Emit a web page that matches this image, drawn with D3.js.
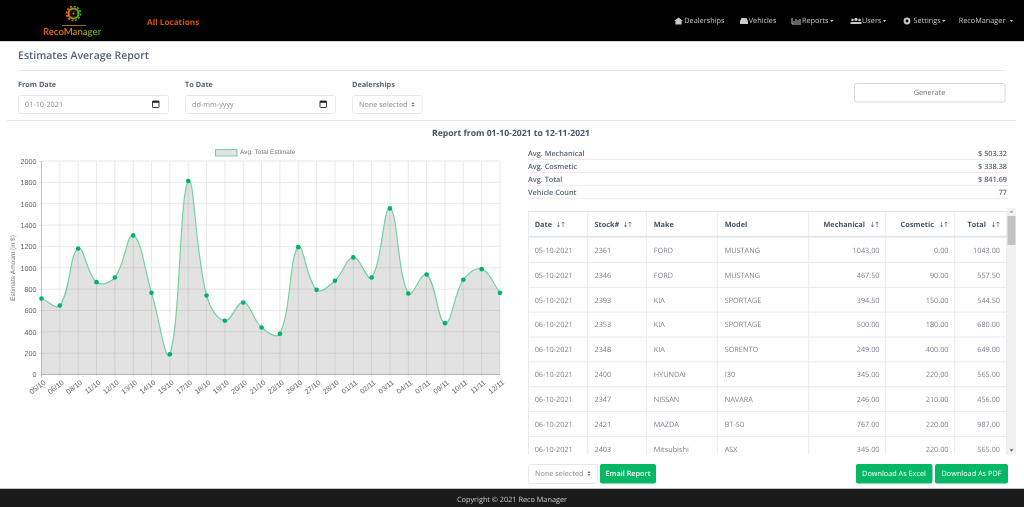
<!DOCTYPE html>
<html><head><meta charset="utf-8">
<script src="https://cdn.jsdelivr.net/npm/d3@7"></script>
<style>
html,body{margin:0;padding:0;background:#fff;overflow:hidden}
svg{display:block;filter:blur(0.3px)}
text{font-family:"Open Sans",sans-serif;text-rendering:geometricPrecision}
</style></head><body><svg id="c" width="1024" height="507"></svg>
<script>
// ---------- data ----------
const dates=["05/10","06/10","08/10","11/10","12/10","13/10","14/10","15/10","17/10","18/10","19/10","20/10","21/10","22/10","26/10","27/10","28/10","01/11","02/11","03/11","04/11","07/11","09/11","10/11","11/11","12/11"];
const avgTotal=[712,647,1181,865,909,1303,765,190,1812,740,503,675,440,381,1193,793,878,1097,909,1556,759,937,481,887,987,765];
const yTicks=[0,200,400,600,800,1000,1200,1400,1600,1800,2000];
const summaryLabels=["Avg. Mechanical","Avg. Cosmetic","Avg. Total","Vehicle Count"];
const summaryValues=["$ 503.32","$ 338.38","$ 841.69","77"];
const headers=["Date","Stock#","Make","Model","Mechanical","Cosmetic","Total"];
const rowDates=["05-10-2021","05-10-2021","05-10-2021","06-10-2021","06-10-2021","06-10-2021","06-10-2021","06-10-2021","06-10-2021"];
const rowStock=["2361","2346","2393","2353","2348","2400","2347","2421","2403"];
const rowMake=["FORD","FORD","KIA","KIA","KIA","HYUNDAI","NISSAN","MAZDA","Mitsubishi"];
const rowModel=["MUSTANG","MUSTANG","SPORTAGE","SPORTAGE","SORENTO","I30","NAVARA","BT-50","ASX"];
const rowMech=["1043.00","467.50","394.50","500.00","249.00","345.00","246.00","767.00","345.00"];
const rowCosm=["0.00","90.00","150.00","180.00","400.00","220.00","210.00","220.00","220.00"];
const rowTotal=["1043.00","557.50","544.50","680.00","649.00","565.00","456.00","987.00","565.00"];
const navItems=[["Dealerships",684.3,"home",674],["Vehicles",748.7,"car",740],["Reports",802,"chart",792],["Users",862,"users",850.5],["Settings",913.6,"cog",903],["RecoManager",958.7,null,0]];

// ---------- helpers ----------
const svg=d3.select("#c");
const SANS='"Liberation Sans",Arial,sans-serif';
const DY=0.8;
function T(x,y,s,o={}){return svg.append("text").attr("x",x).attr("y",y+DY).text(s)
  .attr("font-size",o.size||8).attr("font-weight",o.w||400).attr("fill",o.c||"#858796")
  .attr("text-anchor",o.a||"start").attr("dominant-baseline","central")
  .style("font-family",o.f||null);}
function R(x,y,w,h,o={}){return svg.append("rect").attr("x",x).attr("y",y).attr("width",w).attr("height",h)
  .attr("fill",o.fill||"none").attr("stroke",o.stroke||"none").attr("stroke-width",o.sw||1).attr("rx",o.r||0);}
function L(x1,y1,x2,y2,c,w=1){svg.append("line").attr("x1",x1).attr("y1",y1).attr("x2",x2).attr("y2",y2).attr("stroke",c).attr("stroke-width",w);}
function P(d,fill,stroke,sw){return svg.append("path").attr("d",d).attr("fill",fill||"none").attr("stroke",stroke||"none").attr("stroke-width",sw||1);}
function updown(x,y,c){P(`M${x-1.6} ${y-.6}L${x} ${y-2.6}L${x+1.6} ${y-.6}ZM${x-1.6} ${y+.6}L${x} ${y+2.6}L${x+1.6} ${y+.6}Z`,c);}
function calendar(x,y){R(x,y,6.5,6.5,{stroke:"#222",sw:.9,r:.6});R(x,y,6.5,1.8,{fill:"#222"});}

// ---------- nav ----------
R(0,0,1024,41,{fill:"#000"});
L(0,41.5,1024,41.5,"#d8d8d8");
const defs=svg.append("defs");
const grad=defs.append("linearGradient").attr("id","lg").attr("gradientUnits","userSpaceOnUse").attr("x1",43).attr("x2",103).attr("y1",0).attr("y2",0);
grad.append("stop").attr("offset","0").attr("stop-color","#e8590c");
grad.append("stop").attr("offset",".5").attr("stop-color","#d98a0a");
grad.append("stop").attr("offset","1").attr("stop-color","#2fae1f");
const gear=defs.append("linearGradient").attr("id","gg").attr("x1",0).attr("x2",1).attr("y1",0).attr("y2",0);
gear.append("stop").attr("offset","0").attr("stop-color","#f0700a");
gear.append("stop").attr("offset","1").attr("stop-color","#45b020");
svg.append("circle").attr("cx",73.5).attr("cy",13.5).attr("r",5).attr("fill","#111").attr("stroke","url(#gg)").attr("stroke-width",2);
svg.append("circle").attr("cx",73.5).attr("cy",13.5).attr("r",7).attr("fill","none").attr("stroke","url(#gg)").attr("stroke-width",1.6).attr("stroke-dasharray","2 1.66");
svg.append("circle").attr("cx",73.5).attr("cy",13.5).attr("r",1).attr("fill","#b57a10");
R(62,25,24,.8,{fill:"url(#lg)"});
T(43,31.5,"RecoManager",{size:9.6,w:600,c:"url(#lg)",f:"Lato"});
T(147,21.2,"All Locations",{size:8.2,w:700,c:"#d35400"});
const IC="#c8c8c8";
const icons={
 home:(x,y)=>P(`M${x} ${y}L${x+4.5} ${y-3.5}L${x+9} ${y}L${x+7.6} ${y}V${y+3.5}H${x+1.4}V${y}Z`,IC),
 car:(x,y)=>P(`M${x} ${y+3}V${y}L${x+1.5} ${y-3}H${x+6.5}L${x+8} ${y}V${y+3}Z`,IC),
 chart:(x,y)=>P(`M${x} ${y-3}V${y+3}H${x+9}M${x+2} ${y+2}V${y}M${x+4} ${y+2}V${y-2}M${x+6} ${y+2}V${y-1}M${x+8} ${y+2}V${y-2}`,"none",IC,1),
 users:(x,y)=>{svg.append("circle").attr("cx",x+5.5).attr("cy",y-1.6).attr("r",1.7).attr("fill",IC);svg.append("circle").attr("cx",x+2).attr("cy",y-1).attr("r",1.3).attr("fill",IC);svg.append("circle").attr("cx",x+9).attr("cy",y-1).attr("r",1.3).attr("fill",IC);P(`M${x} ${y+3}V${y+1}H${x+11}V${y+3}Z`,IC);},
 cog:(x,y)=>{svg.append("circle").attr("cx",x+4).attr("cy",y).attr("r",2.4).attr("fill","none").attr("stroke",IC).attr("stroke-width",2);}
};
navItems.forEach(([s,x,ic,ix])=>{
  T(x,20.4,s,{size:7.3,c:"#c6c6c6"});
  if(ic) icons[ic](ix,21);
});
[830,883,942,1009.7].forEach(x=>P(`M${x} 20L${x+3.4} 20L${x+1.7} 22Z`,"#c6c6c6"));

// ---------- form header ----------
T(18,55,"Estimates Average Report",{size:10.55,w:600,c:"#566475"});
L(18,70.5,1005,70.5,"#e3e6f0");
T(18,84.6,"From Date",{size:7.3,w:700,c:"#5a6578"});
T(185,84.6,"To Date",{size:7.3,w:700,c:"#5a6578"});
T(352,84.6,"Dealerships",{size:7.3,w:700,c:"#5a6578"});
R(18.5,95.5,150,18,{fill:"#fff",stroke:"#e6e8f0",r:2});
T(25,104.2,"01-10-2021",{size:7.3,c:"#8a8c99"});
calendar(152.5,101);
R(185.5,95.5,150,18,{fill:"#fff",stroke:"#e6e8f0",r:2});
T(192,104.2,"dd-mm-yyyy",{size:7.3,c:"#8a8c99"});
calendar(320,101);
R(352.5,95.5,69.5,18,{fill:"#fff",stroke:"#e6e8f0",r:2});
T(359,104.2,"None selected",{size:7.3,c:"#8a8c99"});
updown(413,104.5,"#777");
R(854.5,83.5,150.5,18.5,{fill:"#fff",stroke:"#d8dae2",r:2});
T(929.5,92.6,"Generate",{size:7.3,c:"#6e7280",a:"middle"});
L(7,120.5,1016,120.5,"#e3e6f0");
T(511,132.4,"Report from 01-10-2021 to 12-11-2021",{size:8.6,w:700,c:"#44546a",a:"middle"});

// ---------- chart ----------
const x=d3.scalePoint().domain(dates).range([41.5,500]);
const y=d3.scaleLinear().domain([0,2000]).range([374.5,161]);
const pts=dates.map((d,i)=>[x(d),y(avgTotal[i])]);

// same spline construction as the original chart's bezier tension
function spline(points,t){
  const p=d3.path();
  const ctrl=points.map((c,i)=>{
    const a=points[i-1]||c,b=points[i+1]||c;
    const d01=Math.hypot(c[0]-a[0],c[1]-a[1]),d12=Math.hypot(b[0]-c[0],b[1]-c[1]);
    const s=d01+d12||1,fa=t*d01/s,fb=t*d12/s;
    return {p:[c[0]-fa*(b[0]-a[0]),c[1]-fa*(b[1]-a[1])],n:[c[0]+fb*(b[0]-a[0]),c[1]+fb*(b[1]-a[1])]};
  });
  p.moveTo(points[0][0],points[0][1]);
  for(let i=1;i<points.length;i++) p.bezierCurveTo(ctrl[i-1].n[0],ctrl[i-1].n[1],ctrl[i].p[0],ctrl[i].p[1],points[i][0],points[i][1]);
  return p.toString();
}
const lineD=spline(pts,0.4);
const gridC="rgba(0,0,0,0.085)";

const gy=svg.append("g").attr("transform","translate(41.5,0)")
  .call(d3.axisLeft(y).tickValues(yTicks).tickFormat(d3.format("d")).tickSize(3).tickPadding(2));
gy.select(".domain").remove();
gy.selectAll("line").attr("stroke",gridC);
gy.selectAll("text").attr("fill","#666").attr("font-size",7.2).style("font-family",SANS);
const gridG=svg.append("g");
gridG.selectAll("line.h").data(yTicks).join("line").attr("class","h")
  .attr("x1",41.5).attr("x2",500).attr("y1",d=>y(d)).attr("y2",d=>y(d))
  .attr("stroke",d=>d===0?"rgba(0,0,0,0.25)":gridC);
gridG.selectAll("line.v").data(dates).join("line").attr("class","v")
  .attr("x1",d=>x(d)).attr("x2",d=>x(d)).attr("y1",161).attr("y2",377.5)
  .attr("stroke",(d,i)=>i===0?"rgba(0,0,0,0.25)":gridC);

const gx=svg.append("g").attr("transform","translate(0,374.5)")
  .call(d3.axisBottom(x).tickSize(0).tickPadding(0));
gx.select(".domain").remove();
gx.selectAll("text").attr("fill","#666").attr("font-size",7.2).style("font-family",SANS)
  .attr("text-anchor","end").attr("dy",0).attr("y",0)
  .attr("transform","translate(2.5,7) rotate(-38)").attr("dominant-baseline","central");

svg.append("path").attr("d",lineD+`L500 374.5L41.5 374.5Z`).attr("fill","rgba(0,0,0,0.115)");
svg.append("path").attr("d",lineD).attr("fill","none").attr("stroke","#72d2a2").attr("stroke-width",1.2);
svg.append("g").selectAll("circle").data(pts).join("circle")
  .attr("cx",d=>d[0]).attr("cy",d=>d[1]).attr("r",2.3).attr("fill","#00b266");

R(215.5,149.5,21.5,6.5,{fill:"rgba(0,0,0,0.115)",stroke:"#72d2a2"});
T(240,151.6,"Avg. Total Estimate",{size:6.5,c:"#777",f:SANS});
svg.append("text").attr("transform","translate(13,268) rotate(-90)").attr("text-anchor","middle").attr("dominant-baseline","central")
  .attr("font-size",6.5).attr("fill","#777").style("font-family",SANS).text("Estimate Amount (in $)");

// ---------- summary ----------
summaryLabels.forEach((s,i)=>{
  const yy=153.4+i*12.9;
  T(528,yy,s,{size:7.3,w:600,c:"#566475"});
  T(1007,yy,summaryValues[i],{size:7.3,w:600,c:"#566475",a:"end"});
  L(528,159.5+i*13,1008,159.5+i*13,"#fbe6ea");
});

// ---------- table ----------
defs.append("clipPath").attr("id","tc").append("rect").attr("x",520).attr("y",205).attr("width",487).attr("height",249.5);
const colX=[528.5,587.7,646.3,717.3,808.7,885.7,954.7,1006.7];
const rowsG=svg.append("g").attr("clip-path","url(#tc)");
function CL(x1,y1,x2,y2,c,w=1){rowsG.append("line").attr("x1",x1).attr("y1",y1).attr("x2",x2).attr("y2",y2).attr("stroke",c).attr("stroke-width",w);}
colX.forEach(cx=>CL(cx,211.5,cx,456,"#e8eaf0"));
CL(528,211.5,1007,211.5,"#e3e6f0");
CL(528,236.8,1007,236.8,"#e3e6f0",2);
const rowCols=[rowDates,rowStock,rowMake,rowModel,rowMech,rowCosm,rowTotal];
const leftX=[534.7,594.5,653.7,724.7];
const rightX=[879.5,948.5,1000];
function TC(x,y,s,o){return rowsG.append("text").attr("x",x).attr("y",y+DY).text(s).attr("font-size",o.size).attr("font-weight",o.w||400).attr("fill",o.c).attr("text-anchor",o.a||"start").attr("dominant-baseline","central");}
rowDates.forEach((_,r)=>{
  const yy=250+r*24.85;
  if(r>0) CL(528,yy-12.4,1007,yy-12.4,"#e8eaf0");
  rowCols.forEach((col,c)=>{
    if(c<4) TC(leftX[c],yy,col[r],{size:7.3,c:"#7f8392"});
    else TC(rightX[c-4],yy,col[r],{size:7.3,c:"#7f8392",a:"end"});
  });
});
function arrows(ax,ay){rowsG.append("text").attr("x",ax).attr("y",ay).text("↓↑").attr("font-size",7.2).attr("fill","#5a6578").attr("dominant-baseline","central").style("font-family","DejaVu Sans").attr("letter-spacing","-1.5");}
const hY=224.3;
TC(534.7,hY,headers[0],{size:7.3,w:700,c:"#44546a"});arrows(555.5,hY);
TC(594.5,hY,headers[1],{size:7.3,w:700,c:"#44546a"});arrows(622.5,hY);
TC(653.7,hY,headers[2],{size:7.3,w:700,c:"#44546a"});
TC(724.7,hY,headers[3],{size:7.3,w:700,c:"#44546a"});
TC(865,hY,headers[4],{size:7.3,w:700,c:"#44546a",a:"end"});arrows(869.5,hY);
TC(934,hY,headers[5],{size:7.3,w:700,c:"#44546a",a:"end"});arrows(938.5,hY);
TC(986,hY,headers[6],{size:7.3,w:700,c:"#44546a",a:"end"});arrows(990.5,hY);

// scrollbar
R(1007,208,9,247,{fill:"#f1f1f1"});
R(1007.5,216,8,29,{fill:"#c1c1c1"});
P("M1009.5 212.5L1011.5 210.5L1013.5 212.5Z","#a0a0a0");
P("M1009.5 449.5L1011.5 451.5L1013.5 449.5Z","#505050");

// ---------- bottom controls ----------
R(528.5,464.5,69,19,{fill:"#fff",stroke:"#e6e8f0",r:2});
T(535,473.4,"None selected",{size:7.3,c:"#8a8c99"});
updown(589,473.5,"#777");
const green="#05b865";
R(600,464,56,19.5,{fill:green,r:2});
T(628,473.4,"Email Report",{size:7.3,w:600,c:"#fff",a:"middle"});
R(856,464,76.5,19.5,{fill:green,r:2});
T(894,473.4,"Download As Excel",{size:7.3,w:400,c:"#fff",a:"middle"});
R(935,464,73,19.5,{fill:green,r:2});
T(971.5,473.4,"Download As PDF",{size:7.3,w:400,c:"#fff",a:"middle"});

// ---------- footer ----------
R(0,489,1024,18,{fill:"#1a1a1a"});
L(0,488.5,1024,488.5,"#c8c8c8");
T(512,499,"Copyright © 2021 Reco Manager",{size:7.3,c:"#cfcfcf",a:"middle"});
</script></body></html>
